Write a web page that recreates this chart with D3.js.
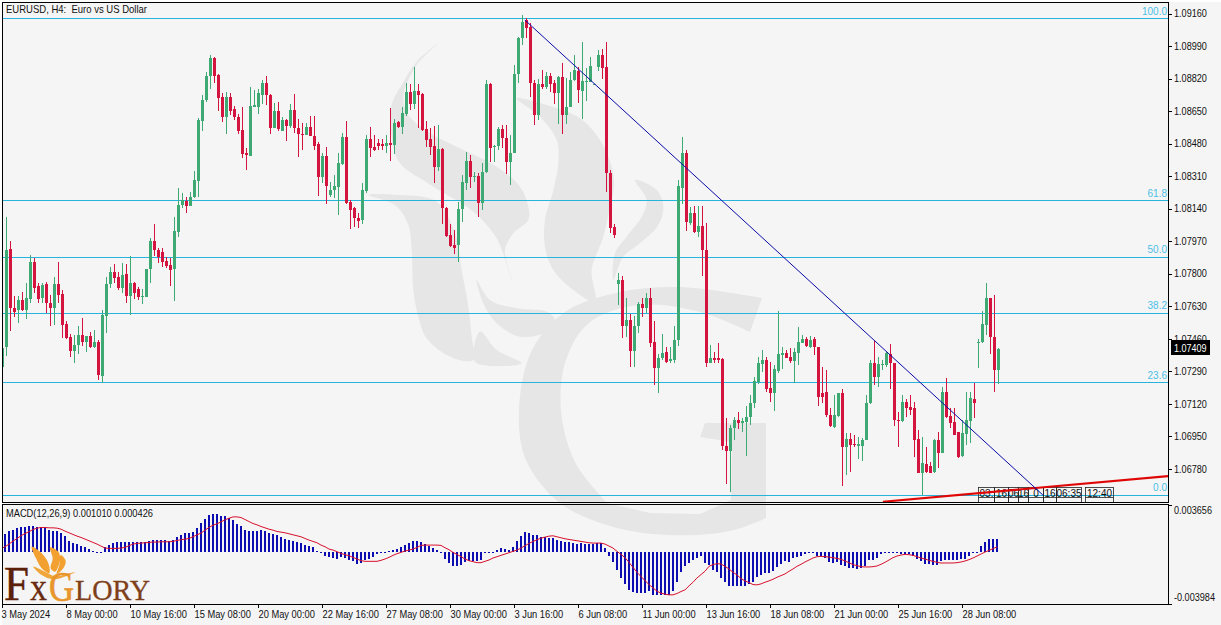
<!DOCTYPE html>
<html>
<head>
<meta charset="utf-8">
<script src="https://cdnjs.cloudflare.com/ajax/libs/d3/7.8.5/d3.min.js"></script>
<style>
html,body{margin:0;padding:0;background:#fff;overflow:hidden}
svg{display:block}
text{font-family:"Liberation Sans",Arial,sans-serif;fill:#111}
</style>
</head>
<body>
<svg id="c" width="1221" height="625"></svg>
<script>
// Prices are in points above 1.00000 (7409 = 1.07409). Bars are H4 candles, oldest first.
const priceOpen=[
7313,7417,7930,7621,7611,7663,7611,7668,7862,7737,
7673,7747,7647,7621,7747,7695,7538,7469,7397,7428,
7480,7444,7475,7417,7444,7266,7580,7747,7809,7783,
7726,7799,7684,7752,7721,7679,7679,7825,7972,7924,
7914,7867,7846,7825,8018,8159,8180,8154,8201,8285,
8598,8708,8833,8927,8839,8724,8619,8724,8661,8619,
8551,8431,8415,8672,8672,8734,8797,8734,8562,8651,
8546,8603,8572,8656,8562,8530,8525,8567,8520,8478,
8306,8415,8212,8238,8254,8373,8515,8175,8144,8091,
8081,8232,8504,8462,8483,8478,8468,8483,8473,8593,
8567,8635,8750,8687,8755,8739,8556,8504,8468,8358,
8452,8144,8003,7950,7950,8138,8274,8389,8306,8311,
8170,8332,8792,8462,8468,8556,8509,8384,8431,8844,
9032,9126,9089,8797,8630,8792,8776,8833,8797,8745,
8828,8630,8671,8812,8860,8755,8802,8802,8787,8880,
8943,8880,8327,8044,7747,7768,7527,7559,7397,7527,
7642,7621,7673,7444,7308,7360,7391,7345,7350,7454,
8248,8431,8065,8118,8018,8050,7924,7334,7360,7360,
7355,6900,6874,6994,7036,7020,7025,7052,7125,7235,
7329,7350,7203,7177,7292,7376,7386,7365,7345,7386,
7438,7459,7417,7459,7417,7177,7183,7062,7000,7057,
7177,6895,6937,6911,6900,6900,6932,7125,7334,7261,
7323,7323,7381,7334,7036,7031,7130,7104,7099,6937,
6759,6806,6796,6765,6932,6864,7183,7057,7026,6973,
6848,6963,7031,7146,7438,7444,7532,7673,7470,7297];
const priceHigh=[
7412,8096,7972,7684,7684,7705,7752,7898,7882,7752,
7752,7757,7689,7783,7862,7715,7553,7485,7480,7527,
7569,7475,7496,7506,7454,7611,7783,7835,7851,7809,
7856,7851,7893,7757,7731,7721,7825,7987,8060,7935,
7935,7888,7882,8096,8248,8222,8201,8227,8337,8614,
8734,8854,8943,8933,8844,8744,8750,8744,8677,8635,
8672,8457,8776,8760,8765,8812,8833,8739,8692,8698,
8619,8609,8687,8739,8609,8588,8588,8624,8624,8489,
8431,8462,8280,8316,8431,8535,8598,8186,8149,8118,
8274,8525,8567,8525,8504,8504,8525,8666,8609,8598,
8672,8797,8792,8880,8792,8744,8598,8562,8572,8577,
8457,8149,8060,8029,8175,8316,8436,8421,8332,8327,
8379,8812,8797,8473,8567,8577,8577,8525,8891,9037,
9152,9136,9110,8812,8818,8865,8854,8849,8812,8833,
8901,8823,8854,8943,8880,9011,8875,8933,8792,8969,
8975,9011,8342,8060,7804,7789,7673,7590,7580,7652,
7673,7700,7726,7553,7381,7485,7417,7417,7527,8290,
8515,8447,8149,8154,8154,8154,8065,7428,7391,7438,
7360,7047,7010,7052,7078,7047,7109,7167,7260,7365,
7402,7365,7339,7323,7606,7417,7402,7412,7412,7522,
7480,7470,7475,7470,7417,7313,7297,7099,7167,7177,
7198,6968,6968,6958,6947,6942,7167,7350,7449,7365,
7350,7391,7433,7334,7078,7167,7146,7167,7130,6984,
6947,6895,6816,6937,6973,7209,7255,7099,7099,6973,
7036,7183,7183,7229,7459,7606,7752,7673,7689,7412];
const priceLow=[
7308,7371,7501,7574,7543,7606,7564,7647,7700,7647,
7647,7596,7527,7532,7647,7465,7459,7365,7334,7381,
7423,7391,7412,7412,7245,7229,7491,7726,7752,7715,
7700,7647,7585,7668,7663,7642,7679,7752,7893,7856,
7835,7830,7737,7658,7992,8144,8118,8154,8196,8201,
8546,8698,8765,8797,8651,8593,8530,8630,8603,8530,
8405,8342,8415,8672,8635,8687,8682,8530,8562,8546,
8546,8494,8562,8535,8410,8447,8525,8520,8447,8207,
8274,8165,8201,8196,8107,8368,8165,8034,8044,8039,
8060,8222,8410,8441,8447,8447,8431,8389,8426,8562,
8530,8625,8656,8661,8562,8546,8462,8421,8274,8337,
8060,7992,7940,7903,7862,8070,8238,8248,8280,8097,
8133,8327,8384,8384,8447,8457,8321,8264,8431,8797,
8996,9032,8724,8577,8603,8765,8765,8750,8687,8583,
8530,8583,8671,8807,8692,8609,8703,8802,8787,8860,
8818,8227,8013,7987,7637,7465,7470,7313,7313,7491,
7574,7595,7417,7219,7177,7350,7334,7334,7334,7423,
8165,8024,8055,8013,7992,7788,7313,7334,7334,7334,
6879,6702,6660,6932,6989,6973,6848,7010,7098,7224,
7287,7183,7130,7083,7282,7303,7360,7334,7229,7323,
7438,7417,7412,7376,7109,7125,7052,7000,6994,7052,
6692,6749,6765,6895,6832,6822,6932,7120,7219,7209,
7297,7313,7198,7005,6895,7026,7052,7062,6843,6759,
6644,6759,6759,6759,6785,6864,7047,6994,6958,6837,
6843,6905,6916,7047,7308,7438,7480,7381,7183,7224];
const priceClose=[
7412,7924,7621,7601,7663,7611,7673,7862,7726,7668,
7742,7647,7621,7747,7689,7532,7465,7397,7428,7480,
7444,7475,7417,7444,7271,7585,7747,7809,7778,7726,
7794,7684,7752,7700,7679,7684,7825,7972,7924,7888,
7862,7841,7820,8024,8159,8186,8154,8201,8290,8603,
8708,8833,8927,8833,8718,8619,8724,8651,8619,8546,
8426,8421,8677,8682,8745,8797,8734,8562,8651,8556,
8603,8572,8656,8562,8530,8525,8567,8520,8468,8306,
8415,8259,8238,8259,8379,8515,8170,8133,8091,8076,
8238,8504,8457,8447,8468,8468,8483,8473,8588,8567,
8640,8750,8687,8755,8734,8551,8499,8462,8358,8452,
8144,7997,7945,7935,8138,8280,8389,8306,8311,8170,
8332,8792,8457,8468,8556,8509,8384,8431,8844,9032,
9116,9084,8797,8630,8792,8776,8833,8792,8745,8828,
8630,8671,8812,8865,8760,8807,8807,8886,8792,8943,
8875,8327,8039,8003,7768,7527,7559,7397,7527,7642,
7621,7673,7438,7308,7360,7386,7339,7355,7454,8259,
8431,8071,8118,8018,8050,7924,7334,7360,7350,7350,
6900,6874,6994,7036,7020,7031,7052,7125,7240,7334,
7350,7198,7177,7302,7381,7386,7360,7345,7391,7444,
7459,7423,7454,7417,7157,7157,7062,7005,7062,7177,
6895,6937,6905,6905,6911,6932,7125,7334,7261,7329,
7329,7386,7334,7036,7031,7130,7099,7088,6932,6759,
6811,6765,6759,6932,6864,7183,7052,7020,6958,6843,
6968,7036,7151,7125,7444,7538,7673,7470,7297,7409];

// MACD values in millionths
const macdMain=[
1200,1408,1613,1741,1869,1920,1971,2022,2022,1971,
1971,1869,1741,1664,1613,1485,1229,845,717,640,
512,384,256,128,26,51,384,589,691,768,
819,819,819,819,768,768,768,896,947,947,
947,947,896,947,1203,1357,1459,1485,1536,1869,
2304,2611,2893,2995,2995,2816,2816,2688,2509,2227,
2048,1741,1664,1664,1664,1741,1664,1485,1408,1331,
1152,1024,973,845,768,691,589,461,384,77,
26,-256,-384,-435,-512,-384,-435,-589,-691,-896,
-819,-589,-512,-333,-128,-51,-51,77,179,256,
384,589,717,845,845,768,640,461,333,179,
26,-512,-819,-1024,-1075,-947,-768,-640,-640,-640,
-589,-51,-51,-10,179,307,256,179,384,896,
1280,1536,1459,1331,1331,1203,1152,1101,1075,973,
845,819,768,691,640,691,640,640,640,717,
691,333,-256,-768,-1357,-1971,-2432,-2867,-3072,-3123,
-3123,-3123,-2995,-3277,-3328,-3277,-3277,-3251,-2995,-2253,
-1485,-1024,-845,-589,-435,-307,-845,-947,-1331,-1485,
-1997,-2304,-2560,-2611,-2611,-2611,-2560,-2432,-2304,-1920,
-1715,-1613,-1613,-1459,-1152,-896,-691,-768,-435,-384,
-307,-154,-51,-51,-307,-307,-410,-742,-819,-742,
-998,-1075,-1178,-1178,-1306,-1203,-1075,-614,-563,-410,
-102,26,26,-10,-51,-102,-154,-154,-307,-486,
-666,-870,-922,-998,-998,-666,-614,-563,-563,-563,
-538,-486,-307,-51,26,461,794,1050,1050,1010];
const macdSignal=[
282,435,640,870,1075,1280,1459,1587,1766,1869,
1920,1920,1894,1894,1869,1792,1638,1510,1382,1254,
1152,1024,896,768,640,486,333,307,307,307,
333,384,512,640,691,717,742,768,794,794,
819,819,819,845,922,973,1024,1075,1203,1357,
1485,1715,1920,2099,2202,2355,2509,2637,2739,2739,
2688,2534,2381,2227,2125,1997,1894,1792,1715,1613,
1562,1510,1434,1357,1280,1203,1075,947,845,742,
563,435,256,179,51,-77,-179,-256,-384,-512,
-640,-691,-691,-691,-691,-614,-512,-384,-230,-102,
0,102,179,256,384,538,563,563,563,563,
538,358,205,0,-154,-333,-512,-640,-717,-794,
-794,-691,-589,-435,-333,-230,-128,-26,77,179,
333,512,691,845,973,1101,1178,1254,1280,1203,
1126,1050,998,947,896,845,794,742,717,717,
717,640,486,333,77,-154,-410,-768,-1152,-1536,
-1869,-2176,-2483,-2739,-2995,-3149,-3226,-3277,-3277,-3174,
-3021,-2893,-2586,-2304,-1971,-1715,-1459,-1075,-947,-870,
-896,-1075,-1280,-1536,-1741,-2022,-2202,-2330,-2483,-2509,
-2432,-2304,-2202,-2074,-1920,-1792,-1664,-1459,-1280,-1075,
-922,-742,-589,-435,-333,-307,-333,-358,-410,-461,
-538,-666,-794,-947,-1024,-1101,-1126,-1126,-1101,-1050,
-922,-768,-589,-410,-282,-205,-154,-179,-230,-333,
-435,-512,-614,-691,-768,-819,-819,-819,-819,-794,
-742,-666,-563,-435,-282,-128,26,154,282,426];

const priceTicks=[9160,8990,8820,8650,8480,8310,8140,7970,7800,7630,7460,7290,7120,6950,6780];
const macdTicks=[3656,-3984];
const macdTickLabels=["0.003656","-0.003984"];
const timeTickBars=[0,16,32,48,64,80,96,112,128,144,160,176,192,208,224,240];
const timeTickLabels=["3 May 2024","8 May 00:00","10 May 16:00","15 May 08:00","20 May 00:00","22 May 16:00","27 May 08:00","30 May 00:00","3 Jun 16:00","6 Jun 08:00","11 Jun 00:00","13 Jun 16:00","18 Jun 08:00","21 Jun 00:00","25 Jun 16:00","28 Jun 08:00"];
const fibLabels=["100.0","61.8","50.0","38.2","23.6","0.0"];
const fibPrices=[9134,8183,7889,7596,7232,6645];
const blueTrendBars=[130.6,260.1];
const blueTrendPrices=[9126,6644];
const redTrendBars=[220.1,291.4];
const redTrendPrices=[6609,6743];
const lastPrice=7409;
const chartTitle="EURUSD, H4:  Euro vs US Dollar";
const macdTitle="MACD(12,26,9) 0.001010 0.000426";

const svg=d3.select("#c");
const W=1221,H=625,L=3,R=1168,T1=3,B1=502,T2=505,B2=604;
const BG="#f5f5f5",UP="#3fa974",DN="#d2143e",HIST="#0c0cb0",FIB="#27b4dc",FIBT="#4cc0e6",GRAY="#e6e6e6";

const x=d3.scaleLinear().domain([0,249]).range([2.5,998.5]);
const y=d3.scaleLinear().domain([9160,6780]).range([13.5,469]);
const ym=d3.scaleLinear().domain([3656,-3984]).range([T2,B2]);

// squeeze text horizontally so that a 10px face has the narrower set width of the original
function squeeze(sel,f){sel.each(function(){const w=this.getComputedTextLength();d3.select(this).attr("textLength",w*f).attr("lengthAdjust","spacingAndGlyphs");});}

svg.append("rect").attr("x",2).attr("y",2).attr("width",W).attr("height",H).attr("fill",BG);

const defs=svg.append("defs");
defs.append("clipPath").attr("id","cm").append("rect").attr("x",L).attr("y",T1).attr("width",R-L).attr("height",B1-T1);
defs.append("clipPath").attr("id","cm2").append("rect").attr("x",L).attr("y",T2).attr("width",R-L).attr("height",B2-T2);

// watermark (decoration, page coordinates)
const wm=svg.append("g").attr("fill",GRAY);
function zp(pts){
  return d3.line().curve(d3.curveCatmullRomClosed.alpha(.5))(pts.map(p=>[340+p[0]/3,30+p[1]/3]));
}
[
 [[295,40],[230,95],[185,165],[155,225],[158,340],[180,400],[280,470],[400,545],[470,625],[515,750],[495,660],[520,610],[565,570],[565,530],[540,470],[470,410],[350,350],[270,310],[205,255],[190,200],[230,105]],
 [[85,495],[180,495],[290,515],[345,610],[365,720],[385,830],[395,920],[400,990],[330,980],[260,925],[235,860],[220,780],[215,660],[205,585],[165,525]],
 [[420,905],[470,960],[545,1000],[405,995]],
 [[530,205],[620,225],[720,265],[780,330],[815,410],[822,470],[810,530],[790,620],[755,720],[765,815],[700,780],[640,720],[615,650],[615,570],[640,480],[655,400],[650,330],[600,260]],
 [[885,450],[950,480],[970,530],[955,585],[900,640],[850,680],[820,750],[825,670],[860,620],[905,560],[920,510]],
 [[410,750],[450,810],[530,835],[620,845],[645,870],[620,905],[540,920],[470,880],[430,820]]
].forEach(s=>wm.append("path").attr("d",zp(s)));
wm.append("path").attr("d",d3.line().curve(d3.curveCatmullRom.alpha(.5))([[762,298],[680,287],[620,292],[565,312],[532,350],[519,410],[526,460],[560,503],[610,526],[667,535],[730,531],[766,518]])+
 "L766,423 L705,423 L700,437 L732,442 L731,500 L700,514 L650,513 "+
 d3.line().curve(d3.curveCatmullRom.alpha(.5))([[607,503],[575,462],[561,410],[566,360],[590,322],[640,305],[700,312],[750,332]]).replace("M","L")+"Z");

const main=svg.append("g").attr("clip-path","url(#cm)");
main.selectAll(".fib").data(fibPrices).join("line").attr("class","fib")
 .attr("x1",L).attr("x2",R).attr("y1",d=>Math.round(y(d))+.5).attr("y2",d=>Math.round(y(d))+.5)
 .attr("stroke",FIB).attr("stroke-width",1);

const bars=d3.range(priceOpen.length);
const gC=main.append("g").attr("shape-rendering","crispEdges");
gC.selectAll(".w").data(bars).join("rect").attr("class","w")
 .attr("x",i=>x(i)-.5).attr("width",1)
 .attr("y",i=>y(priceHigh[i])).attr("height",i=>Math.max(1,y(priceLow[i])-y(priceHigh[i])))
 .attr("fill",i=>priceClose[i]>=priceOpen[i]?UP:DN);
gC.selectAll(".b").data(bars).join("rect").attr("class","b")
 .attr("x",i=>x(i)-1.5).attr("width",3)
 .attr("y",i=>y(Math.max(priceOpen[i],priceClose[i])))
 .attr("height",i=>Math.max(1,Math.abs(y(priceOpen[i])-y(priceClose[i]))))
 .attr("fill",i=>priceClose[i]>=priceOpen[i]?UP:DN);

main.selectAll(".fl").data(fibLabels).join("text").attr("class","fl")
 .attr("x",R-1).attr("y",(d,i)=>y(fibPrices[i])-3.5).attr("text-anchor","end")
 .attr("font-size",10).style("fill",FIBT).text(d=>d);

// clipped object labels at the bottom of the panel
const objBoxes=[[978,16,"03:"],[994,14,"16"],[1008,10,"06"],[1018,10,"16"],[1028,15,"0"],[1043,13,"16"],[1056,25,"06:35"],[1085,28,"12:40"]];
const og=main.append("g");
objBoxes.forEach(b=>{
  og.append("rect").attr("x",b[0]+.5).attr("y",487.5).attr("width",b[1]).attr("height",18).attr("fill","none").attr("stroke","#222").attr("stroke-width",.8);
  og.append("line").attr("x1",b[0]+.5).attr("x2",b[0]+b[1]+.5).attr("y1",497.5).attr("y2",497.5).attr("stroke","#222").attr("stroke-width",.8);
  og.append("text").attr("x",b[0]+b[1]/2+.5).attr("y",496.5).attr("text-anchor","middle").attr("font-size",10).text(b[2]);
});

const tl=d3.line().x(d=>x(d[0])).y(d=>y(d[1]));
main.append("path").attr("d",tl(redTrendBars.map((b,i)=>[b,redTrendPrices[i]]))).attr("fill","none").attr("stroke","#e00606").attr("stroke-width",2.2);
main.append("path").attr("d",tl(blueTrendBars.map((b,i)=>[b,blueTrendPrices[i]]))).attr("fill","none").attr("stroke","#0a0aa8").attr("stroke-width",1);

const sub=svg.append("g").attr("clip-path","url(#cm2)");
sub.append("g").attr("shape-rendering","crispEdges").selectAll("rect").data(macdMain.map((v,i)=>[i,v])).join("rect")
 .attr("x",d=>x(d[0])-2.5).attr("width",2)
 .attr("y",d=>Math.min(ym(0),ym(d[1]))).attr("height",d=>Math.max(1,Math.abs(ym(d[1])-ym(0))))
 .attr("fill",HIST);
sub.append("path").attr("d",d3.line().x((d,i)=>x(i)-1.5).y(d=>ym(d))(macdSignal)).attr("fill","none").attr("stroke","#d8102c").attr("stroke-width",1);

[[T1,B1],[T2,B2]].forEach(r=>svg.append("rect").attr("x",2.5).attr("y",r[0]-.5).attr("width",R-2).attr("height",r[1]-r[0]+.5)
  .attr("fill","none").attr("stroke","#000").attr("stroke-width",1).attr("shape-rendering","crispEdges"));

function styleAxis(g,f){g.select(".domain").remove();g.selectAll("line").attr("stroke","#000").attr("shape-rendering","crispEdges");g.selectAll("text").attr("font-family","Liberation Sans").attr("font-size",10).style("fill","#111");squeeze(g.selectAll("text"),f);}
const ay=svg.append("g").attr("transform",`translate(${R},0)`)
 .call(d3.axisRight(y).tickValues(priceTicks).tickSize(4).tickPadding(2).tickFormat(d=>(1+d/1e5).toFixed(5)));
styleAxis(ay,.91);
const am=svg.append("g").attr("transform",`translate(${R},0)`)
 .call(d3.axisRight(ym).tickValues(macdTicks).tickSize(4).tickPadding(2).tickFormat((d,i)=>macdTickLabels[i]));
styleAxis(am,.91);
am.selectAll("text").attr("dy",(d,i)=>i==0?"0.85em":"-0.35em");
const ax=svg.append("g").attr("transform",`translate(0,${B2})`)
 .call(d3.axisBottom(d3.scaleLinear().domain([0,249]).range([2,998])).tickValues(timeTickBars).tickSize(4).tickPadding(3).tickFormat((d,i)=>timeTickLabels[i]));
styleAxis(ax,.93);
ax.selectAll("text").attr("text-anchor","start").attr("x",d=>d==0?-1:0);

svg.append("rect").attr("x",1171).attr("y",340).attr("width",39).attr("height",15).attr("fill","#000");
svg.append("text").attr("x",1174).attr("y",352).attr("font-size",10).attr("textLength",32.5).attr("lengthAdjust","spacingAndGlyphs").style("fill","#fff").text((1+lastPrice/1e5).toFixed(5));

svg.append("text").attr("x",6).attr("y",13).attr("font-size",10.5).attr("textLength",141).attr("lengthAdjust","spacingAndGlyphs").attr("xml:space","preserve").style("white-space","pre").text(chartTitle);
svg.append("text").attr("x",6).attr("y",517).attr("font-size",10.5).attr("textLength",147).attr("lengthAdjust","spacingAndGlyphs").text(macdTitle);

// FxGlory logo (decoration)
const lg=svg.append("g");
const lz=p=>[p[0]/3,540+p[1]/3];
const lc=d3.line().curve(d3.curveCatmullRomClosed.alpha(.5));
[
 [[95,20],[125,40],[145,70],[148,100],[125,85],[108,55]],
 [[150,22],[175,35],[180,60],[165,95],[152,85],[158,55]],
 [[182,45],[197,62],[190,85],[170,102],[178,75]],
 [[100,80],[135,95],[165,108],[225,96],[200,108],[160,118],[125,105]]
].forEach((s,i)=>lg.append("path").attr("d",lc(s.map(lz))).attr("fill",i==3?"#f0a63a":"#f2a030"));
const serif=(txt,px,py,fs,len,col,sw)=>lg.append("text").attr("x",px).attr("y",py).attr("font-size",fs).attr("textLength",len).attr("lengthAdjust","spacingAndGlyphs")
 .style("font-family","Liberation Serif").style("fill",col).attr("stroke",col).attr("stroke-width",sw).text(txt);
serif("F",4,600,49,25,"#5c1f08",.5);
serif("x",30,600,37,17,"#6a2c10",.3);
serif("G",49,601,42,25,"#e8962c",.7);
serif("LORY",75,600,30,75,"#7e3f1a",.3);
</script>
</body>
</html>
